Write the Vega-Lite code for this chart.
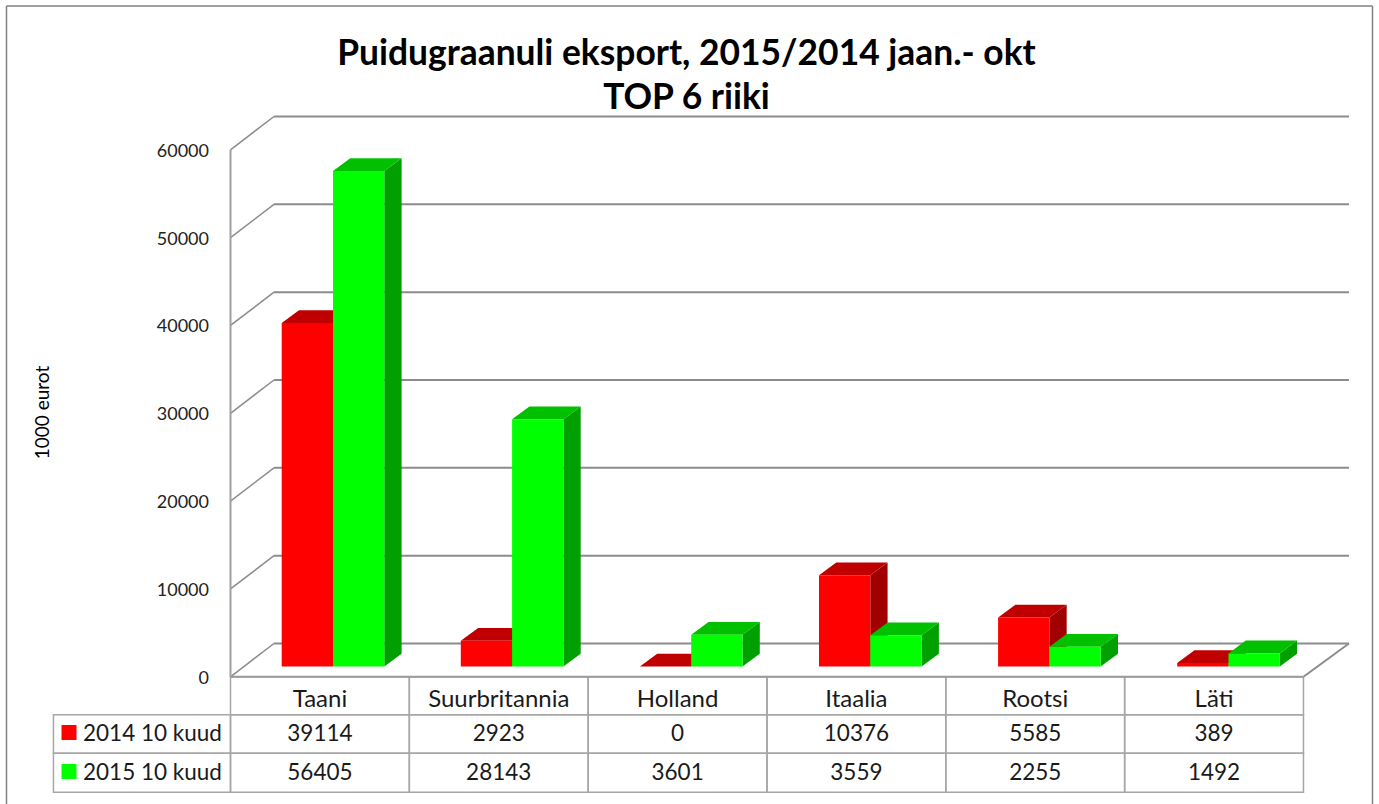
{
"$schema":"https://vega.github.io/schema/vega-lite/v6.json",
"width":1366,"height":798,
"padding":{"left":6.5,"top":6,"right":6.5,"bottom":0},
"autosize":{"type":"none"},
"background":"white",
"config":{"view":{"stroke":null},"font":"Lato"},
"title":{"text":["Puidugraanuli eksport, 2015/2014 jaan.- okt","TOP 6 riiki"],"font":"Lato","fontSize":35.4,"fontWeight":"bold","color":"#000000","anchor":"middle","frame":"group","offset":-111,"dx":-3,"lineHeight":44},
"datasets":{
"bars":[
{"country":"Taani","series":"2014 10 kuud","value":39114},
{"country":"Suurbritannia","series":"2014 10 kuud","value":2923},
{"country":"Holland","series":"2014 10 kuud","value":0},
{"country":"Itaalia","series":"2014 10 kuud","value":10376},
{"country":"Rootsi","series":"2014 10 kuud","value":5585},
{"country":"Läti","series":"2014 10 kuud","value":389},
{"country":"Taani","series":"2015 10 kuud","value":56405},
{"country":"Suurbritannia","series":"2015 10 kuud","value":28143},
{"country":"Holland","series":"2015 10 kuud","value":3601},
{"country":"Itaalia","series":"2015 10 kuud","value":3559},
{"country":"Rootsi","series":"2015 10 kuud","value":2255},
{"country":"Läti","series":"2015 10 kuud","value":1492}
],
"countries":[{"country":"Taani"},{"country":"Suurbritannia"},{"country":"Holland"},{"country":"Itaalia"},{"country":"Rootsi"},{"country":"Läti"}],
"legend":[{"series":"2014 10 kuud"},{"series":"2015 10 kuud"}],
"ticks":[{"tick":0},{"tick":10000},{"tick":20000},{"tick":30000},{"tick":40000},{"tick":50000},{"tick":60000}],
"frame":[{"part":"frame"}]
},
"layer":[
{"data":{"name":"frame"},"mark":{"type":"rule","stroke":"#808080","strokeWidth":1.5},
 "encoding":{"x":{"datum":-1.2526,"type":"quantitative","axis":null,"scale":{"domain":[-1.2526,6.386],"nice":false,"zero":false}}}},
{"data":{"name":"frame"},"mark":{"type":"rule","stroke":"#808080","strokeWidth":1.5},
 "encoding":{"x":{"datum":6.386,"type":"quantitative","axis":null}}},
{"data":{"name":"frame"},"mark":{"type":"rule","stroke":"#808080","strokeWidth":1.5},
 "encoding":{"y":{"datum":76372,"type":"quantitative","scale":{"domain":[-14482,76372],"nice":false,"zero":false},
   "axis":{"values":[0,10000,20000,30000,40000,50000,60000],"offset":-224,"domain":false,"ticks":false,"grid":false,"labelPadding":22,"labelOffset":1.5,"labelFont":"Lato","labelFontSize":18,"labelColor":"#222222","labelOverlap":false,"labelBound":false,"labelFlush":false,"format":"d","title":"1000 eurot","titleFont":"Lato","titleFontSize":19,"titleFontWeight":"normal","titleColor":"#000000","titleAngle":-90,"titleX":-188,"titleY":406,"titleAlign":"center","titleBaseline":"middle"}}}},
{"data":{"name":"ticks"},"transform":[{"calculate":"datum.tick+3791","as":"back"}],"mark":{"type":"rule","stroke":"#8c8c8c","strokeWidth":2},
 "encoding":{"x":{"datum":0.2432,"type":"quantitative","axis":null},"x2":{"datum":6.2544},"y":{"field":"back","type":"quantitative"}}},
{"data":{"name":"ticks"},"transform":[{"calculate":"datum.tick+3791","as":"back"}],"mark":{"type":"rule","stroke":"#8c8c8c","strokeWidth":1.5},
 "encoding":{"x":{"datum":0,"type":"quantitative","axis":null},"x2":{"datum":0.2432},"y":{"field":"tick","type":"quantitative"},"y2":{"field":"back"}}},
{"data":{"name":"frame"},"mark":{"type":"rule","stroke":"#8c8c8c","strokeWidth":2},
 "encoding":{"x":{"datum":6,"type":"quantitative","axis":null},"x2":{"datum":6.2544},"y":{"datum":0,"type":"quantitative"},"y2":{"datum":3791}}},
{"data":{"name":"frame"},"mark":{"type":"rule","stroke":"#a0a0a0","strokeWidth":2},
 "encoding":{"x":{"datum":0,"type":"quantitative","axis":null},"y":{"datum":0,"type":"quantitative"},"y2":{"datum":60000}}},
{"data":{"name":"bars"},"transform":[{"filter":"datum.series==='2014 10 kuud'"},
   {"calculate":"indexof(['Taani','Suurbritannia','Holland','Itaalia','Rootsi','Läti'],datum.country)*1.0015+0.2863","as":"l"},
   {"calculate":"datum.l+0.2869","as":"r"},{"calculate":"datum.value+1173","as":"t"},
   {"calculate":"[datum.r,datum.r+0.0967]","as":"px"},{"calculate":"[datum.t,datum.t+1457]","as":"py"},{"calculate":"[1173,2630]","as":"py2"},
   {"flatten":["px","py","py2"]}],
  "mark":{"type":"area","orient":"vertical","color":"#a00000"},
  "encoding":{"x":{"field":"px","type":"quantitative","axis":null},"y":{"field":"py","type":"quantitative"},"y2":{"field":"py2"},"detail":{"field":"country"}}},
{"data":{"name":"bars"},"transform":[{"filter":"datum.series==='2014 10 kuud'"},
   {"calculate":"indexof(['Taani','Suurbritannia','Holland','Itaalia','Rootsi','Läti'],datum.country)*1.0015+0.2863","as":"l"},
   {"calculate":"datum.l+0.2869","as":"r"},{"calculate":"datum.value+1173","as":"t"},
   {"calculate":"[datum.l,datum.l+0.0967,datum.r,datum.r+0.0967]","as":"px"},{"calculate":"[datum.t,datum.t+1457,datum.t+1457,datum.t+1457]","as":"py"},{"calculate":"[datum.t,datum.t,datum.t,datum.t+1457]","as":"py2"},
   {"flatten":["px","py","py2"]}],
  "mark":{"type":"area","orient":"vertical","color":"#c00000"},
  "encoding":{"x":{"field":"px","type":"quantitative","axis":null},"y":{"field":"py","type":"quantitative"},"y2":{"field":"py2"},"detail":{"field":"country"}}},
{"data":{"name":"bars"},"transform":[{"filter":"datum.series==='2014 10 kuud'"},
   {"calculate":"indexof(['Taani','Suurbritannia','Holland','Itaalia','Rootsi','Läti'],datum.country)*1.0015+0.2863","as":"l"},
   {"calculate":"datum.l+0.2869","as":"r"},{"calculate":"datum.value+1173","as":"t"},{"calculate":"1173","as":"b"}],
  "mark":{"type":"rect","color":"#ff0000"},
  "encoding":{"x":{"field":"l","type":"quantitative","axis":null},"x2":{"field":"r"},"y":{"field":"t","type":"quantitative"},"y2":{"field":"b"}}},
{"data":{"name":"bars"},"transform":[{"filter":"datum.series==='2015 10 kuud'"},
   {"calculate":"indexof(['Taani','Suurbritannia','Holland','Itaalia','Rootsi','Läti'],datum.country)*1.0015+0.5732","as":"l"},
   {"calculate":"datum.l+0.2869","as":"r"},{"calculate":"datum.value+1173","as":"t"},
   {"calculate":"[datum.r,datum.r+0.0967]","as":"px"},{"calculate":"[datum.t,datum.t+1457]","as":"py"},{"calculate":"[1173,2630]","as":"py2"},
   {"flatten":["px","py","py2"]}],
  "mark":{"type":"area","orient":"vertical","color":"#00a000"},
  "encoding":{"x":{"field":"px","type":"quantitative","axis":null},"y":{"field":"py","type":"quantitative"},"y2":{"field":"py2"},"detail":{"field":"country"}}},
{"data":{"name":"bars"},"transform":[{"filter":"datum.series==='2015 10 kuud'"},
   {"calculate":"indexof(['Taani','Suurbritannia','Holland','Itaalia','Rootsi','Läti'],datum.country)*1.0015+0.5732","as":"l"},
   {"calculate":"datum.l+0.2869","as":"r"},{"calculate":"datum.value+1173","as":"t"},
   {"calculate":"[datum.l,datum.l+0.0967,datum.r,datum.r+0.0967]","as":"px"},{"calculate":"[datum.t,datum.t+1457,datum.t+1457,datum.t+1457]","as":"py"},{"calculate":"[datum.t,datum.t,datum.t,datum.t+1457]","as":"py2"},
   {"flatten":["px","py","py2"]}],
  "mark":{"type":"area","orient":"vertical","color":"#00c000"},
  "encoding":{"x":{"field":"px","type":"quantitative","axis":null},"y":{"field":"py","type":"quantitative"},"y2":{"field":"py2"},"detail":{"field":"country"}}},
{"data":{"name":"bars"},"transform":[{"filter":"datum.series==='2015 10 kuud'"},
   {"calculate":"indexof(['Taani','Suurbritannia','Holland','Itaalia','Rootsi','Läti'],datum.country)*1.0015+0.5732","as":"l"},
   {"calculate":"datum.l+0.2869","as":"r"},{"calculate":"datum.value+1173","as":"t"},{"calculate":"1173","as":"b"}],
  "mark":{"type":"rect","color":"#00ff00"},
  "encoding":{"x":{"field":"l","type":"quantitative","axis":null},"x2":{"field":"r"},"y":{"field":"t","type":"quantitative"},"y2":{"field":"b"}}},
{"data":{"name":"bars"},"transform":[
   {"calculate":"indexof(['Taani','Suurbritannia','Holland','Itaalia','Rootsi','Läti'],datum.country)","as":"i"},{"calculate":"datum.i+1","as":"i2"},
   {"calculate":"datum.series==='2014 10 kuud'?-4326:-8698","as":"rt"},{"calculate":"datum.series==='2014 10 kuud'?-8698:-13139","as":"rb"}],
  "mark":{"type":"rect","fill":null,"fillOpacity":0,"stroke":"#a6a6a6","strokeWidth":1.5},
  "encoding":{"x":{"field":"i","type":"quantitative","axis":null},"x2":{"field":"i2"},"y":{"field":"rt","type":"quantitative"},"y2":{"field":"rb"}}},
{"data":{"name":"countries"},"transform":[
   {"calculate":"indexof(['Taani','Suurbritannia','Holland','Itaalia','Rootsi','Läti'],datum.country)","as":"i"},{"calculate":"datum.i+1","as":"i2"},{"calculate":"0","as":"rt"},{"calculate":"-4326","as":"rb"}],
  "mark":{"type":"rect","fill":null,"fillOpacity":0,"stroke":"#a6a6a6","strokeWidth":1.5},
  "encoding":{"x":{"field":"i","type":"quantitative","axis":null},"x2":{"field":"i2"},"y":{"field":"rt","type":"quantitative"},"y2":{"field":"rb"}}},
{"data":{"name":"legend"},"transform":[
   {"calculate":"-0.99","as":"i"},{"calculate":"0","as":"i2"},
   {"calculate":"datum.series==='2014 10 kuud'?-4326:-8698","as":"rt"},{"calculate":"datum.series==='2014 10 kuud'?-8698:-13139","as":"rb"}],
  "mark":{"type":"rect","fill":null,"fillOpacity":0,"stroke":"#a6a6a6","strokeWidth":1.5},
  "encoding":{"x":{"field":"i","type":"quantitative","axis":null},"x2":{"field":"i2"},"y":{"field":"rt","type":"quantitative"},"y2":{"field":"rb"}}},
{"data":{"name":"frame"},"mark":{"type":"rule","stroke":"#9a9a9a","strokeWidth":2},
 "encoding":{"x":{"datum":0,"type":"quantitative","axis":null},"x2":{"datum":6},"y":{"datum":0,"type":"quantitative"}}},
{"data":{"name":"countries"},"transform":[
   {"calculate":"indexof(['Taani','Suurbritannia','Holland','Itaalia','Rootsi','Läti'],datum.country)+0.5","as":"c"},{"calculate":"-2584","as":"ry"}],
  "mark":{"type":"text","font":"Lato","fontSize":24,"color":"#1a1a1a","baseline":"middle","align":"center","dy":1},
  "encoding":{"x":{"field":"c","type":"quantitative","axis":null},"y":{"field":"ry","type":"quantitative"},"text":{"field":"country","type":"nominal"}}},
{"data":{"name":"bars"},"transform":[
   {"calculate":"indexof(['Taani','Suurbritannia','Holland','Itaalia','Rootsi','Läti'],datum.country)+0.5","as":"c"},
   {"calculate":"datum.series==='2014 10 kuud'?-6342:-10782","as":"ry"}],
  "mark":{"type":"text","font":"Lato","fontSize":22.5,"color":"#1a1a1a","baseline":"middle","align":"center","dy":1},
  "encoding":{"x":{"field":"c","type":"quantitative","axis":null},"y":{"field":"ry","type":"quantitative"},"text":{"field":"value","type":"quantitative","format":"d"}}},
{"data":{"name":"legend"},"transform":[{"calculate":"-0.903","as":"c"},{"calculate":"datum.series==='2014 10 kuud'?-6342:-10782","as":"ry"}],
  "mark":{"type":"point","shape":"square","filled":true,"size":225,"opacity":1},
  "encoding":{"x":{"field":"c","type":"quantitative","axis":null},"y":{"field":"ry","type":"quantitative"},
    "color":{"field":"series","type":"nominal","legend":null,"scale":{"domain":["2014 10 kuud","2015 10 kuud"],"range":["#ff0000","#00ff00"]}}}},
{"data":{"name":"legend"},"transform":[{"calculate":"-0.8248","as":"c"},{"calculate":"datum.series==='2014 10 kuud'?-6342:-10782","as":"ry"}],
  "mark":{"type":"text","font":"Lato","fontSize":22.5,"color":"#1a1a1a","baseline":"middle","align":"left","dy":1},
  "encoding":{"x":{"field":"c","type":"quantitative","axis":null},"y":{"field":"ry","type":"quantitative"},"text":{"field":"series","type":"nominal"}}}
]
}
